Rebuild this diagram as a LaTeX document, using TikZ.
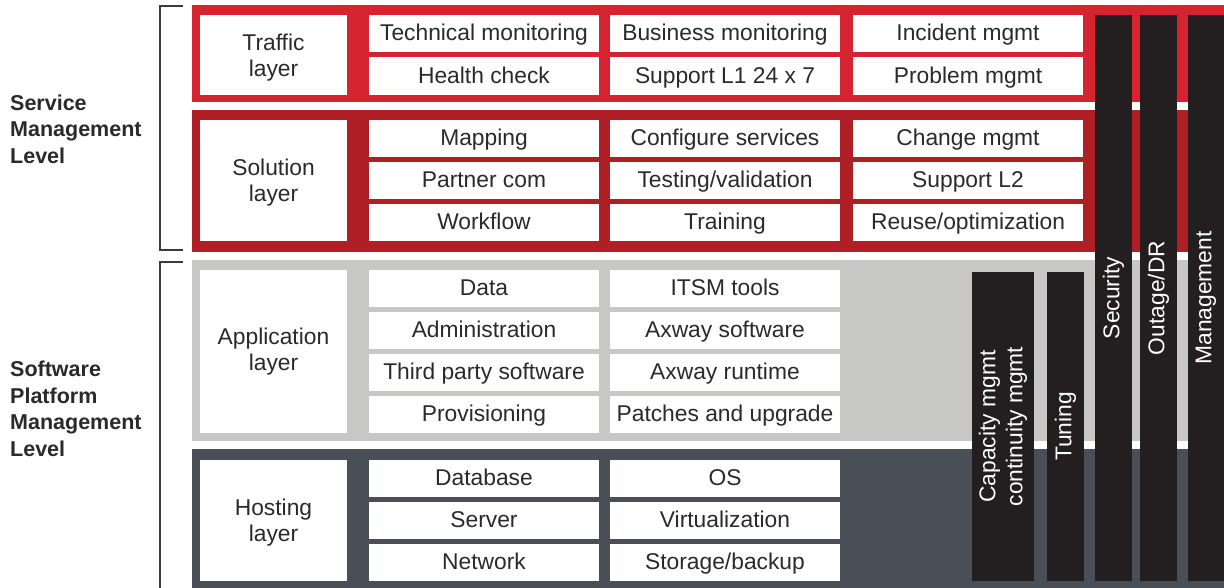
\documentclass[tikz,border=0pt]{standalone}
\usepackage{fontspec}
\setmainfont{Liberation Sans}
\definecolor{trafficred}{HTML}{D52330}
\definecolor{solutionred}{HTML}{B01F25}
\definecolor{appgray}{HTML}{C7C7C6}
\definecolor{hostgray}{HTML}{4A4F57}
\definecolor{barblack}{HTML}{231F20}
\definecolor{txt}{HTML}{2A2A2A}
\definecolor{bracketgray}{HTML}{3A3A3A}
\tikzset{
  band/.style={inner sep=0pt, outer sep=0pt, anchor=north west},
  cellbox/.style={fill=white, text=txt, inner sep=0pt, outer sep=0pt, anchor=north west,
    align=center, font=\fontsize{22.8}{26}\selectfont},
  cell/.style={cellbox, minimum width=230pt, minimum height=37pt,
    text height=18pt, text depth=3.5pt},
  layerbox/.style={cellbox, minimum width=147pt},
  layertext/.style={text=txt, inner sep=0pt, align=center, font=\fontsize{22.8}{26}\selectfont},
  barbox/.style={fill=barblack, inner sep=0pt, outer sep=0pt, anchor=north west},
  bartext/.style={text=white, rotate=90, align=center, font=\fontsize{22.8}{27}\selectfont},
  levellabel/.style={text=txt, anchor=west, align=left, inner sep=0pt,
    font=\bfseries\fontsize{21.5}{26.5}\selectfont},
  bracket/.style={draw=bracketgray, line width=1.4pt}
}
\begin{document}
\begin{tikzpicture}[x=1pt,y=-1pt]
\useasboundingbox (0,0) rectangle (1224,588);
\fill[white] (0,0) rectangle (1224,588);

% layer bands
\node[band, fill=trafficred, minimum width=1032pt, minimum height=97pt] (trafficband) at (192,5) {};
\node[band, fill=solutionred, minimum width=1032pt, minimum height=142pt] (solutionband) at (192,110) {};
\node[band, fill=appgray, minimum width=1032pt, minimum height=181pt] (appband) at (192,260) {};
\node[band, fill=hostgray, minimum width=1032pt, minimum height=139pt] (hostband) at (192,449) {};

% level brackets
\coordinate (b1a) at (183,6);
\coordinate (b1b) at (160,6);
\coordinate (b1c) at (160,250);
\coordinate (b1d) at (183,250);
\draw[bracket] (b1a) -- (b1b) -- (b1c) -- (b1d);
\coordinate (b2a) at (183,262);
\coordinate (b2b) at (160,262);
\coordinate (b2c) at (160,588);
\draw[bracket] (b2a) -- (b2b) -- (b2c);

% level labels
\node[levellabel] (svclevel) at (10,129) {Service\\Management\\Level};
\node[levellabel] (swlevel) at (10,409) {Software\\Platform\\Management\\Level};

% layer names
\node[layerbox, minimum height=80pt] (traffic) at (200,15) {};
\node[layertext] (traffictxt) at ([yshift=-2.5pt]traffic.center) {Traffic\\layer};
\node[layerbox, minimum height=121pt] (solution) at (200,120) {};
\node[layertext] (solutiontxt) at ([yshift=-2pt]solution.center) {Solution\\layer};
\node[layerbox, minimum height=163pt] (application) at (200,270) {};
\node[layertext] (applicationtxt) at ([yshift=-0.5pt]application.center) {Application\\layer};
\node[layerbox, minimum height=121pt] (hosting) at (200,460) {};
\node[layertext] (hostingtxt) at ([yshift=-2pt]hosting.center) {Hosting\\layer};

% traffic layer
\node[cell] (techmon) at (369,15) {Technical monitoring};
\node[cell] (busmon) at (610,15) {Business monitoring};
\node[cell] (incident) at (853,15) {Incident mgmt};
\node[cell, minimum height=38pt] (health) at (369,57) {Health check};
\node[cell, minimum height=38pt] (support1) at (610,57) {Support L1 24 x 7};
\node[cell, minimum height=38pt] (problem) at (853,57) {Problem mgmt};

% solution layer
\node[cell] (mapping) at (369,120) {Mapping};
\node[cell] (configure) at (610,120) {Configure services};
\node[cell] (change) at (853,120) {Change mgmt};
\node[cell] (partner) at (369,162) {Partner com};
\node[cell] (testing) at (610,162) {Testing/validation};
\node[cell] (support2) at (853,162) {Support L2};
\node[cell] (workflow) at (369,204) {Workflow};
\node[cell] (training) at (610,204) {Training};
\node[cell] (reuse) at (853,204) {Reuse/optimization};

% application layer
\node[cell] (data) at (369,270) {Data};
\node[cell] (itsm) at (610,270) {ITSM tools};
\node[cell] (admin) at (369,312) {Administration};
\node[cell] (axsoft) at (610,312) {Axway software};
\node[cell] (thirdparty) at (369,354) {Third party software};
\node[cell] (axrun) at (610,354) {Axway runtime};
\node[cell] (prov) at (369,396) {Provisioning};
\node[cell] (patches) at (610,396) {Patches and upgrade};

% hosting layer
\node[cell] (database) at (369,460) {Database};
\node[cell] (os) at (610,460) {OS};
\node[cell] (server) at (369,502) {Server};
\node[cell] (virt) at (610,502) {Virtualization};
\node[cell] (network) at (369,544) {Network};
\node[cell] (storage) at (610,544) {Storage/backup};

% cross-cutting bars
\node[barbox, minimum width=62pt, minimum height=309pt] (capacity) at (972,272) {};
\node[bartext] (capacitytxt) at (capacity.center) {Capacity mgmt\\continuity mgmt};
\node[barbox, minimum width=37pt, minimum height=309pt] (tuning) at (1047,272) {};
\node[bartext] (tuningtxt) at (tuning.center) {Tuning};
\node[barbox, minimum width=37pt, minimum height=566pt] (security) at (1095,15) {};
\node[bartext] (securitytxt) at (security.center) {Security};
\node[barbox, minimum width=37pt, minimum height=566pt] (outage) at (1140,15) {};
\node[bartext] (outagetxt) at (outage.center) {Outage/DR};
\node[barbox, minimum width=36pt, minimum height=566pt] (mgmt) at (1188,15) {};
\node[bartext] (mgmttxt) at (mgmt.center) {Management};
\end{tikzpicture}
\end{document}
